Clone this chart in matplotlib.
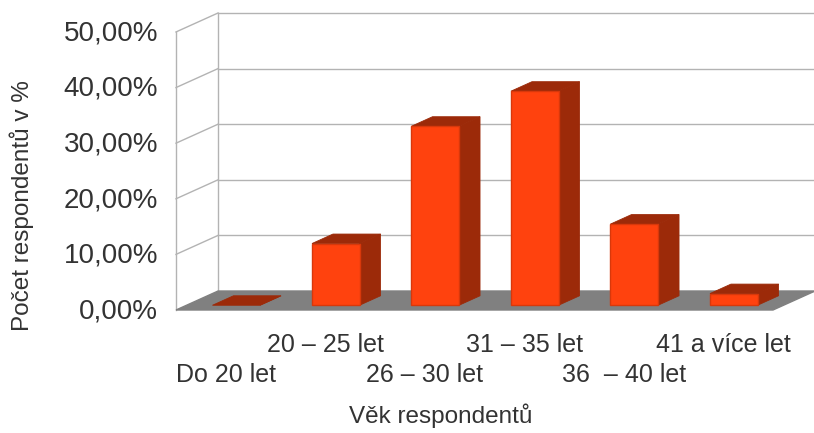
"""
Věk respondentů - 3D-look bar chart (LibreOffice style), drawn as oblique
projection on a plain 2D axes.
"""

import matplotlib

matplotlib.use("Agg")
import matplotlib.pyplot as plt  # noqa: E402
from matplotlib.patches import Polygon  # noqa: E402

plt.rcParams["font.family"] = ["Liberation Sans", "DejaVu Sans"]

CATEGORIES = ["Do 20 let", "20 – 25 let", "26 – 30 let", "31 – 35 let", "36  – 40 let", "41 a více let"]
VALUES = [0.0, 11.1, 32.2, 38.5, 14.6, 2.1]
YTICKS = [0, 10, 20, 30, 40, 50]
XLABEL = "Věk respondentů"
YLABEL = "Počet respondentů v %"

C_FRONT = "#ff420e"
C_SIDE = "#9c2a09"
C_EDGE = "#d8380b"
C_FLOOR = "#808080"
C_GRID = "#b3b3b3"
C_TEXT = "#333333"

# depth of the plot box, in data units (x: categories, y: percent)
DX = 0.422
DY = 3.41
HALF_W = 0.239

fig = plt.figure(figsize=(8.14, 4.33), dpi=100)
ax = fig.add_axes([176 / 814, 123 / 433, 639 / 814, 297 / 433])
ax.set_xlim(-0.5, len(CATEGORIES) - 0.5 + DX)
ax.set_ylim(0, YTICKS[-1] + DY)
ax.axis("off")

x0, x1 = -0.5, len(CATEGORIES) - 0.5
top = YTICKS[-1]

# walls
for t in YTICKS:
    ax.plot([x0 + DX, x1 + DX], [t + DY, t + DY], color=C_GRID, lw=1, zorder=1, clip_on=False)
    if t > 0:
        ax.plot([x0, x0 + DX], [t, t + DY], color=C_GRID, lw=1, zorder=1, clip_on=False)
ax.plot([x0 + DX, x0 + DX], [DY, top + DY], color=C_GRID, lw=1, zorder=1, clip_on=False)
ax.plot([x0, x0], [0, top], color=C_GRID, lw=1, zorder=1, clip_on=False)

# floor
ax.add_patch(Polygon([(x0, 0), (x1, 0), (x1 + DX, DY), (x0 + DX, DY)],
                     closed=True, color=C_FLOOR, zorder=2, clip_on=False))

# bars: front at 1/4 of depth, back at 3/4
fx, fy = 0.25 * DX, 0.25 * DY
bx, by = 0.5 * DX, 0.5 * DY
for i, v in enumerate(VALUES):
    l, r = i - HALF_W + fx, i + HALF_W + fx
    b, t = fy, v + fy
    side = [(r, b), (r + bx, b + by), (r + bx, t + by), (r, t)]
    topf = [(l, t), (r, t), (r + bx, t + by), (l + bx, t + by)]
    front = [(l, b), (r, b), (r, t), (l, t)]
    ax.add_patch(Polygon(side, closed=True, fc=C_SIDE, ec=C_SIDE, lw=0.6, zorder=3, clip_on=False))
    ax.add_patch(Polygon(topf, closed=True, fc=C_SIDE, ec=C_SIDE, lw=0.6, zorder=3, clip_on=False))
    if v > 0:
        ax.add_patch(Polygon(front, closed=True, fc=C_FRONT, ec=C_EDGE, lw=1.0, zorder=4, clip_on=False))

# y tick labels on the front edge
for t in YTICKS:
    ax.annotate(f"{t},00%", xy=(x0, t), xytext=(-13, -1), textcoords="offset points",
                ha="right", va="center", fontsize=20, color=C_TEXT)

# staggered category labels
for i, c in enumerate(CATEGORIES):
    off = -25.5 if i % 2 else -46.5
    ax.annotate(c, xy=(i, 0), xytext=(0, off), textcoords="offset points",
                ha="center", va="center", fontsize=18, color=C_TEXT)

fig.text(441 / 814, 1 - 416 / 433, XLABEL, ha="center", va="center", fontsize=17.5, color=C_TEXT)
fig.text(22 / 814, 1 - 206 / 433, YLABEL, ha="center", va="center", rotation=90,
         fontsize=17.5, color=C_TEXT)

fig.savefig("out.png", dpi=100)
